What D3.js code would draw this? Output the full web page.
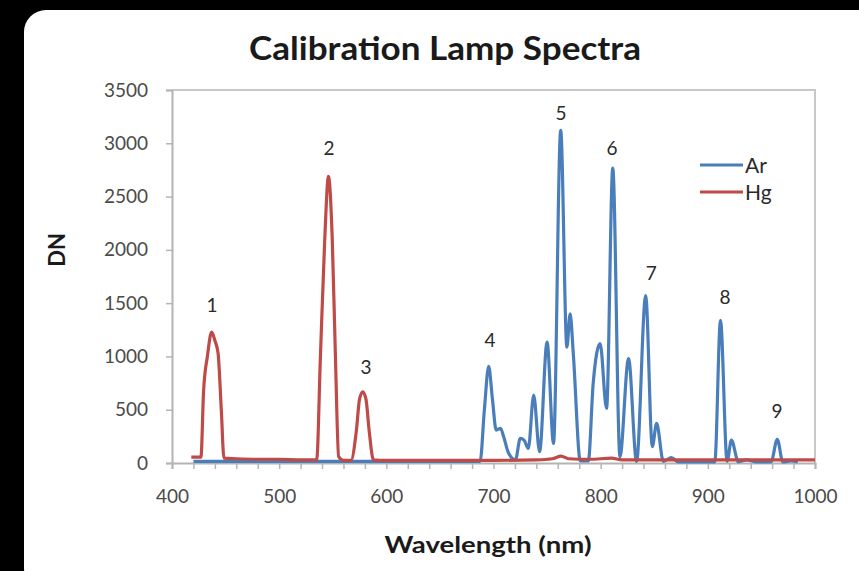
<!DOCTYPE html>
<html>
<head>
<meta charset="utf-8">
<script src="https://cdn.jsdelivr.net/npm/d3@7"></script>
<style>
html,body{margin:0;padding:0;background:#000;}
svg{display:block;}
</style>
</head>
<body>
<svg id="chart" width="859" height="571"></svg>
<script>
// ---- data ----
const hgWl = [418, 427, 429.5, 433, 437, 440, 443, 446, 448.5, 460, 480, 500, 520, 535, 538.5, 542.5, 546, 549.5, 552.5, 555.5, 560, 567, 572, 575, 578, 581, 584, 588, 600, 650, 700, 740, 755, 763, 770, 790, 810, 820, 850, 900, 950, 1000];
const hgDn = [55, 55, 680, 1000, 1228, 1150, 1030, 500, 45, 40, 35, 35, 30, 30, 1000, 2090, 2690, 2110, 1000, 60, 25, 25, 300, 600, 668, 600, 300, 30, 25, 25, 25, 30, 40, 65, 40, 35, 45, 30, 30, 30, 30, 30];

const arWl = [420, 450, 500, 540, 560, 600, 650, 687.5, 691.5, 695.5, 699, 702.5, 706.5, 709.5, 714, 720.5, 725, 728.5, 732.5, 737.5, 743, 750, 756, 762.7, 768.5, 771.5, 774.5, 781, 788.5, 793, 799.5, 805.5, 811.3, 818, 826, 833.5, 842, 848.2, 852.2, 858.5, 866, 872.5, 906.5, 911.8, 918, 922, 928.5, 936.5, 944.5, 959, 964.8, 970, 977.5, 984];
const arDn = [15, 15, 15, 15, 15, 15, 15, 15, 500, 907, 600, 309, 325, 246, 93, 30, 231, 215, 137, 636, 106, 1135, 184, 3121, 1088, 1400, 1020, 20, 20, 745, 1120, 512, 2766, 60, 980, 15, 1571, 153, 371, 15, 50, 10, 10, 1338, 15, 215, 10, 30, 10, 10, 222, 10, 20, 10];

const peakNums = ["1", "2", "3", "4", "5", "6", "7", "8", "9"];
const peakWl = [437.3, 546.5, 581, 696.7, 763, 810.6, 847.2, 916, 964.5];
const peakDn = [1480, 2955, 900, 1150, 3285, 2950, 1780, 1555, 487];

const seriesNames = ["Ar", "Hg"];
const seriesColors = ["#4A7EBB", "#BE4B48"];

const xTicksMajor = [400, 500, 600, 700, 800, 900, 1000];
const yTicks = [0, 500, 1000, 1500, 2000, 2500, 3000, 3500];

// ---- drawing ----
const svg = d3.select("#chart");
const font = "Lato, 'Open Sans', sans-serif";

svg.append("rect").attr("x", 24).attr("y", 10).attr("width", 860).attr("height", 580)
  .attr("rx", 22).attr("fill", "#fff");

const L = 172, R = 815, T = 90, B = 463;
const x = d3.scaleLinear().domain([400, 1000]).range([L, R]);
const y = d3.scaleLinear().domain([0, 3500]).range([B, T]);

// plot border (top/right)
svg.append("path").attr("d", `M${L},${T}H${R}V${B}`).attr("fill", "none")
  .attr("stroke", "#c8c8c8").attr("stroke-width", 2);

// y axis
const yAxis = svg.append("g").attr("transform", `translate(${L},0)`)
  .call(d3.axisLeft(y).tickValues(yTicks).tickSize(6).tickPadding(18).tickFormat(d3.format("d")));
yAxis.select(".domain").attr("stroke", "#b4b4b4").attr("stroke-width", 2);
yAxis.selectAll(".tick line").attr("stroke", "#b4b4b4").attr("stroke-width", 1.5);
yAxis.selectAll("text").attr("font-family", font).attr("font-size", 19).attr("fill", "#4a4a4a");

// x axis
const xMinor = d3.range(400, 1001, 20);
const xAxis = svg.append("g").attr("transform", `translate(0,${B})`)
  .call(d3.axisBottom(x).tickValues(xMinor).tickSize(6).tickPadding(21)
    .tickFormat(d => xTicksMajor.includes(d) ? d : ""));
xAxis.select(".domain").attr("stroke", "#b4b4b4").attr("stroke-width", 2);
xAxis.selectAll(".tick line").attr("stroke", "#b4b4b4").attr("stroke-width", 1.5);
xAxis.selectAll("text").attr("font-family", font).attr("font-size", 19).attr("fill", "#4a4a4a");

// lines
const line = d3.line().x(d => x(d[0])).y(d => y(d[1])).curve(d3.curveMonotoneX);
const arData = arWl.map((w, i) => [w, arDn[i]]);
const hgData = hgWl.map((w, i) => [w, hgDn[i]]);
svg.append("path").datum(arData).attr("d", line).attr("fill", "none")
  .attr("stroke", seriesColors[0]).attr("stroke-width", 3.2).attr("stroke-linejoin", "round");
svg.append("path").datum(hgData).attr("d", line).attr("fill", "none")
  .attr("stroke", seriesColors[1]).attr("stroke-width", 3.2).attr("stroke-linejoin", "round");

// peak labels
svg.selectAll(".peak").data(peakNums).enter().append("text")
  .attr("x", (d, i) => x(peakWl[i])).attr("y", (d, i) => y(peakDn[i]))
  .attr("dy", "0.36em").attr("text-anchor", "middle")
  .attr("font-family", font).attr("font-size", 19).attr("fill", "#2a2a2a")
  .text(d => d);

// legend
const lg = svg.append("g");
seriesNames.forEach((n, i) => {
  const yy = 165 + i * 27;
  lg.append("line").attr("x1", 700).attr("x2", 743).attr("y1", yy).attr("y2", yy)
    .attr("stroke", seriesColors[i]).attr("stroke-width", 3.2);
  lg.append("text").attr("x", 745).attr("y", yy).attr("dy", "0.36em")
    .attr("font-family", font).attr("font-size", 21).attr("fill", "#2a2a2a").text(n);
});

// title and axis labels
svg.append("text").attr("x", 445).attr("y", 60).attr("text-anchor", "middle")
  .attr("font-family", font).attr("font-weight", "bold").attr("font-size", 32).attr("fill", "#1a1a1a")
  .attr("textLength", 392).attr("lengthAdjust", "spacingAndGlyphs")
  .text("Calibration Lamp Spectra");
svg.append("text").attr("x", 488).attr("y", 553).attr("text-anchor", "middle")
  .attr("font-family", font).attr("font-weight", "bold").attr("font-size", 23).attr("fill", "#1a1a1a")
  .attr("textLength", 207).attr("lengthAdjust", "spacingAndGlyphs")
  .text("Wavelength (nm)");
svg.append("text").attr("transform", "translate(65,250) rotate(-90)").attr("text-anchor", "middle")
  .attr("font-family", font).attr("font-weight", "bold").attr("font-size", 22).attr("fill", "#1a1a1a")
  .text("DN");
</script>
</body>
</html>
